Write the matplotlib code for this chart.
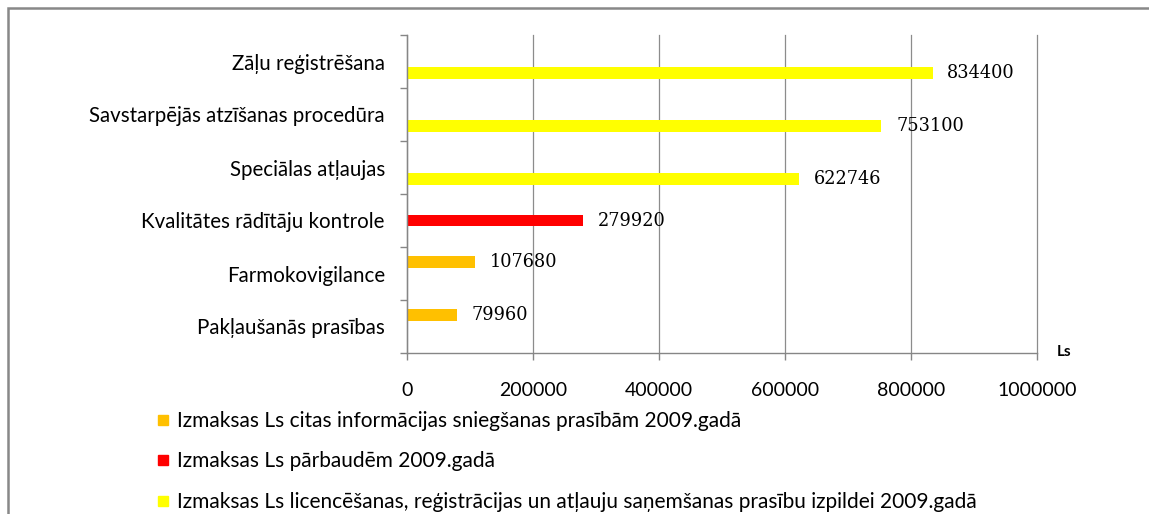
import matplotlib
matplotlib.use("Agg")
import matplotlib.pyplot as plt
from matplotlib.lines import Line2D
from matplotlib.patches import Rectangle
import numpy as np

categories = ["Zāļu reģistrēšana",
              "Savstarpējās atzīšanas procedūra",
              "Speciālas atļaujas",
              "Kvalitātes rādītāju kontrole",
              "Farmokovigilance",
              "Pakļaušanās prasības"]
info_costs = [0, 0, 0, 0, 107680, 79960]
inspection_costs = [0, 0, 0, 279920, 0, 0]
licence_costs = [834400, 753100, 622746, 0, 0, 0]
series_names = ["Izmaksas Ls citas informācijas sniegšanas prasībām 2009.gadā",
                "Izmaksas Ls pārbaudēm 2009.gadā",
                "Izmaksas Ls licencēšanas, reģistrācijas un atļauju saņemšanas prasību izpildei 2009.gadā"]
series_colors = ["#FFC000", "#FF0000", "#FFFF00"]
x_ticks = [0, 200000, 400000, 600000, 800000, 1000000]
unit_label = "Ls"

W, H = 1149, 514
fig = plt.figure(figsize=(W / 100, H / 100), dpi=100)
ax = fig.add_axes([407 / W, 1 - 353 / H, (1037 - 407) / W, (353 - 35) / H])

ypos = np.arange(len(categories))
bh = 0.226
offsets = [-bh, 0.0, bh]
all_series = [info_costs, inspection_costs, licence_costs]
for vals, off, col in zip(all_series, offsets, series_colors):
    bars = ax.barh(ypos + off, vals, height=bh, color=col, zorder=3)
    labels = [str(v) if v else "" for v in vals]
    ax.bar_label(bars, labels=labels, padding=10.5, fontsize=12.8,
                 family="DejaVu Serif", color="black")

ax.set_ylim(len(categories) - 0.5, -0.5)
ax.set_xlim(0, 1000000)
ax.set_yticks(ypos)
ax.set_yticklabels(categories, family="Lato", fontsize=14.8)
ax.set_yticks(np.arange(len(categories) + 1) - 0.5, minor=True)
ax.tick_params(axis="y", which="major", length=0, pad=16)
ax.tick_params(axis="y", which="minor", length=5, width=1, color="#868686", direction="out")
ax.set_xticks(x_ticks)
ax.set_xticklabels([str(t) for t in x_ticks], family="Lato", fontsize=14)
ax.tick_params(axis="x", length=5, width=1, color="#868686", pad=16)

ax.grid(axis="x", color="#8c8c8c", linewidth=0.9, zorder=0)
ax.set_axisbelow(True)
for gl in ax.get_xgridlines():
    gl.set_clip_on(False)
for s in ["top", "right"]:
    ax.spines[s].set_visible(False)
for s in ["left", "bottom"]:
    ax.spines[s].set_color("#868686")
    ax.spines[s].set_linewidth(1)
    ax.spines[s].set_zorder(4)

fig.text(1057 / W, 1 - 352 / H, unit_label, family="Lato", fontsize=11,
         fontweight="bold", va="center", ha="left")

handles = [Line2D([], [], marker="s", linestyle="none", markersize=7.5,
                  markerfacecolor=c, markeredgecolor=c) for c in series_colors]
fig.legend(handles, series_names, loc="upper left",
           bbox_to_anchor=(155 / W, 1 - 411 / H), frameon=False,
           prop={"family": "Lato", "size": 15}, handlelength=0.75,
           handletextpad=0.3, labelspacing=0.98, borderaxespad=0, borderpad=0)

fig.add_artist(Rectangle((8 / W, -0.2), 1.2, 1 - 8 / H + 0.2, transform=fig.transFigure,
                         fill=False, edgecolor="#888888", linewidth=1.8))

fig.savefig("out.png", dpi=100)
